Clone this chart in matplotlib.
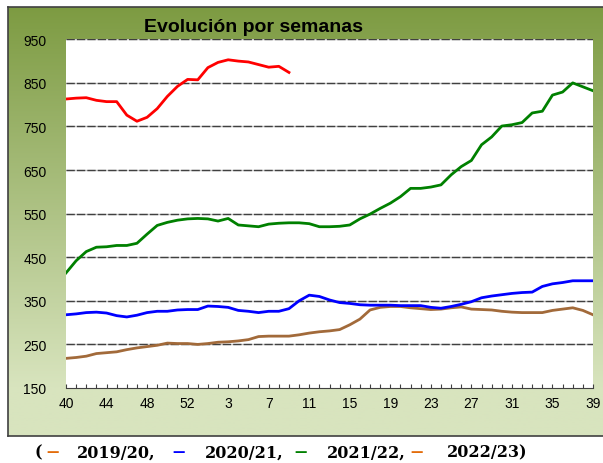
import numpy as np
import matplotlib.pyplot as plt

# weeks of the campaign (2020 had a week 53)
weeks = list(range(40, 54)) + list(range(1, 40))

# 2022/23 (only up to week 9)
s2223 = [813, 815, 816, 810, 807, 807, 776, 762, 771, 791, 819, 842, 858, 857,
         885, 897, 903, 900, 898, 892, 886, 888, 874]
# 2021/22
s2122 = [414, 442, 463, 473, 474, 477, 477, 482, 503, 523, 530, 535, 538, 539,
         538, 533, 539, 524, 522, 520, 526, 528, 529, 529, 527, 520, 520,
         521, 524, 538, 549, 562, 574, 589, 608, 608, 611, 616, 639, 658, 672,
         708, 726, 751, 754, 759, 781, 785, 822, 829, 850, 841, 832]
# 2020/21
s2021 = [318, 320, 323, 324, 322, 316, 313, 317, 323, 326, 326, 329, 330, 330,
         338, 337, 335, 328, 326, 323, 326, 326, 332, 350, 363, 360, 352,
         346, 344, 341, 340, 340, 340, 339, 339, 339, 335, 333, 337, 342, 348,
         357, 361, 364, 367, 369, 370, 383, 389, 392, 396, 396, 396]
# 2019/20
s1920 = [218, 220, 223, 229, 231, 233, 238, 242, 245, 248, 253, 252, 252, 250,
         252, 255, 256, 258, 261, 268, 269, 269, 269, 272, 276, 279, 281,
         284, 295, 308, 329, 335, 337, 337, 334, 332, 330, 331, 334, 336, 331,
         330, 329, 326, 324, 323, 323, 323, 328, 331, 334, 328, 318]

yticks = [150, 250, 350, 450, 550, 650, 750, 850, 950]

W, H = 603, 464
fig = plt.figure(figsize=(W / 100, H / 100), dpi=100)
fig.patch.set_facecolor('white')

# green gradient panel behind the chart
bg = fig.add_axes([8 / W, 1 - 437 / H, 1 - 8 / W, (437 - 8) / H])
top = np.array([0x7d, 0x9b, 0x42]) / 255
bot = np.array([0xd8, 0xe4, 0xbe]) / 255
t = np.clip(np.linspace(0, 1.13, 256), 0, 1)[:, None]
grad = top + (bot - top) * t
bg.imshow(grad[:, None, :], aspect='auto', extent=[0, 1, 0, 1])
bg.set_xticks([])
bg.set_yticks([])
for s in ['top', 'left', 'bottom']:
    bg.spines[s].set_color('#404040')
    bg.spines[s].set_linewidth(1.2)
bg.spines['right'].set_visible(False)

ax = fig.add_axes([66 / W, 1 - 389 / H, (593 - 66) / W, (389 - 40.3) / H])
ax.set_facecolor('white')
x = np.arange(len(weeks))

for v in yticks[1:]:
    ax.axhline(v, color='#c8c8c8', lw=1.0, zorder=1)
    ax.axhline(v, color='#404040', lw=1.0, ls=(0, (6, 1.5)), zorder=1.5)

ax.plot(x, s1920, color='#a26a3a', lw=2.0, zorder=3)
ax.plot(x, s2021, color='#0000ff', lw=2.0, zorder=3)
ax.plot(x, s2122, color='#008000', lw=2.0, zorder=3)
ax.plot(x[:len(s2223)], s2223, color='#ff0000', lw=2.0, zorder=3)

ax.set_xlim(0, len(weeks) - 1)
ax.set_ylim(150, 950)
ax.set_yticks(yticks)
ax.set_yticklabels([str(v) for v in yticks], fontsize=10, family='Liberation Sans')
ax.set_xticks(x)
ax.set_xticklabels([str(w) if i % 4 == 0 else '' for i, w in enumerate(weeks)],
                   fontsize=10, family='Liberation Sans')
ax.tick_params(axis='y', length=0, pad=14)
ax.tick_params(axis='x', direction='in', length=3, width=0.8, color='#404040', pad=6)
for s in ['top', 'left', 'right']:
    ax.spines[s].set_visible(False)
ax.spines['bottom'].set_color('#404040')

fig.text(253 / W, 1 - 27 / H, 'Evolución por semanas', ha='center', va='center',
         fontsize=14, fontweight='bold', family='Liberation Sans')

# legend line under the panel
leg_y = 1 - 453 / H
pieces = [(35, '(', 'black'), (46, '—', '#e36c0a'), (77, '2019/20,', 'black'),
          (172, '—', '#0000ff'), (205, '2020/21,', 'black'),
          (294, '—', '#008000'), (327, '2021/22,', 'black'),
          (410, '—', '#e36c0a'), (447, '2022/23)', 'black')]
for px, txt, col in pieces:
    fs = 9 if txt == '—' else 11.5
    fig.text(px / W, leg_y, txt, ha='left', va='center', color=col,
             fontsize=fs, fontweight='bold', family='DejaVu Serif')

fig.savefig('out.png', dpi=100)
